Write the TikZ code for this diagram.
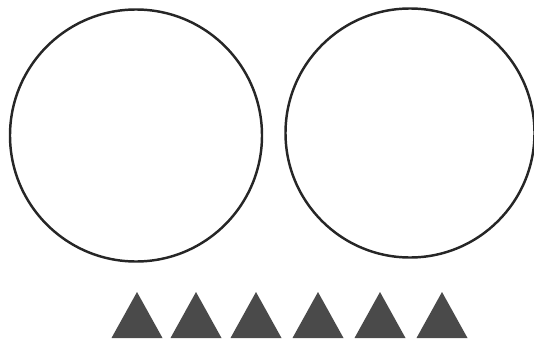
\documentclass[tikz,border=0pt]{standalone}
\usepackage{tikz,xcolor}
\definecolor{triangray}{HTML}{4A4A4A}

\begin{document}
\begin{tikzpicture}[x=0.02cm,y=-0.02cm]
  \useasboundingbox (0,0) rectangle (534,338);
  % Draw the two circles
  \draw[black!85, line width=1.4pt] (136,135.5) circle(126);
  \draw[black!85, line width=1.4pt] (410,133) circle(124.5);
  % Draw the triangles
  \foreach \apex in {137, 196, 256, 318, 380, 442} {
    \fill[triangray] (\apex-25.5,338) -- (\apex,292) -- (\apex+25.5,338) -- cycle;
  }
\end{tikzpicture}
\end{document}
